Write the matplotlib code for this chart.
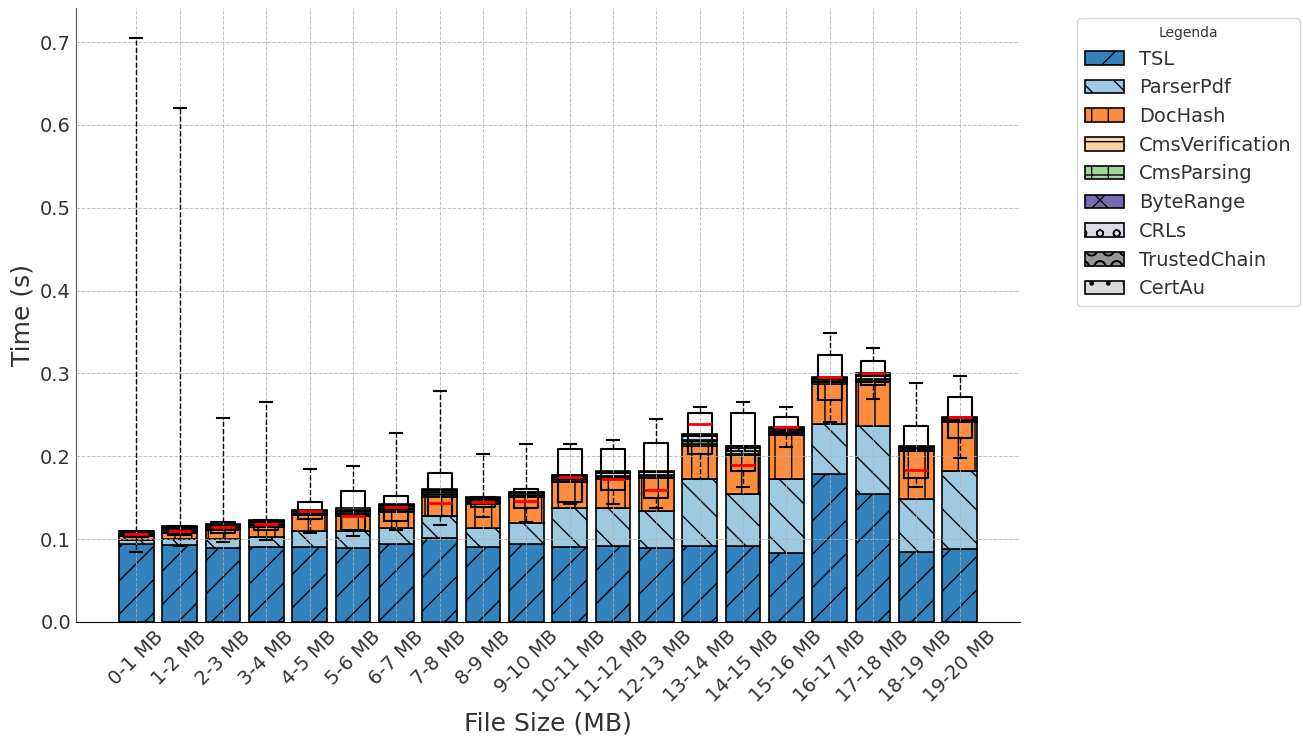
import numpy as np
import matplotlib
matplotlib.use('Agg')
import matplotlib.pyplot as plt

# file size bins
bins = ['0-1 MB', '1-2 MB', '2-3 MB', '3-4 MB', '4-5 MB', '5-6 MB', '6-7 MB', '7-8 MB',
        '8-9 MB', '9-10 MB', '10-11 MB', '11-12 MB', '12-13 MB', '13-14 MB', '14-15 MB',
        '15-16 MB', '16-17 MB', '17-18 MB', '18-19 MB', '19-20 MB']

# mean time per step (s)
tsl = [0.094, 0.093, 0.089, 0.090, 0.090, 0.089, 0.094, 0.1016, 0.091, 0.094,
       0.090, 0.0916, 0.089, 0.0916, 0.0916, 0.083, 0.179, 0.154, 0.0843, 0.088]
parser_pdf = [0.005, 0.0066, 0.0106, 0.0128, 0.020, 0.021, 0.019, 0.0261, 0.023, 0.0256,
              0.048, 0.0454, 0.045, 0.0804, 0.0634, 0.090, 0.0596, 0.082, 0.0647, 0.094]
doc_hash = [0.005, 0.008, 0.0114, 0.0122, 0.019, 0.0177, 0.020, 0.0233, 0.029, 0.0314,
            0.031, 0.036, 0.040, 0.041, 0.046, 0.0523, 0.049, 0.0536, 0.057, 0.0593]
cms_verification = [0.0010, 0.0015, 0.0015, 0.0015, 0.0010, 0.0015, 0.0015, 0.0015, 0.0010, 0.0010,
                    0.0015, 0.0015, 0.0015, 0.0020, 0.0020, 0.0015, 0.0015, 0.0015, 0.0010, 0.0010]
cms_parsing = [0.0010, 0.0015, 0.0015, 0.0015, 0.0010, 0.0015, 0.0020, 0.0015, 0.0015, 0.0010,
               0.0015, 0.0015, 0.0020, 0.0045, 0.0035, 0.0030, 0.0015, 0.0020, 0.0010, 0.0010]
byte_range = [0.0005, 0.0005, 0.0005, 0.0005, 0.0005, 0.0005, 0.0005, 0.0005, 0.0005, 0.0005,
              0.0005, 0.0005, 0.0005, 0.0005, 0.0005, 0.0005, 0.0005, 0.0005, 0.0005, 0.0005]
crls = [0.0015, 0.0025, 0.0020, 0.0025, 0.0020, 0.0030, 0.0030, 0.0030, 0.0025, 0.0020,
        0.0030, 0.0030, 0.0025, 0.0040, 0.0035, 0.0030, 0.0025, 0.0035, 0.0020, 0.0020]
trusted_chain = [0.0015, 0.0010, 0.0010, 0.0010, 0.0010, 0.0015, 0.0015, 0.0015, 0.0015, 0.0010,
                 0.0015, 0.0015, 0.0010, 0.0015, 0.0015, 0.0010, 0.0010, 0.0015, 0.0010, 0.0010]
cert_au = [0.0005, 0.0010, 0.0005, 0.0010, 0.0005, 0.0013, 0.0015, 0.0010, 0.0010, 0.0005,
           0.0010, 0.0010, 0.0005, 0.0015, 0.0005, 0.0007, 0.0010, 0.0014, 0.0005, 0.0006]

# total time distribution per bin (boxplot)
whislo = [0.084, 0.0916, 0.096, 0.099, 0.108, 0.1036, 0.111, 0.117, 0.127, 0.121,
          0.142, 0.143, 0.138, 0.172, 0.163, 0.211, 0.242, 0.2695, 0.163, 0.198]
q1 = [0.103, 0.1045, 0.107, 0.111, 0.124, 0.1116, 0.122, 0.128, 0.139, 0.137,
      0.145, 0.159, 0.150, 0.203, 0.182, 0.227, 0.268, 0.2855, 0.174, 0.2225]
med = [0.106, 0.110, 0.115, 0.1185, 0.134, 0.1277, 0.139, 0.1438, 0.1446, 0.1458,
       0.175, 0.173, 0.159, 0.239, 0.190, 0.235, 0.2956, 0.300, 0.183, 0.2474]
q3 = [0.110, 0.116, 0.121, 0.123, 0.145, 0.158, 0.152, 0.180, 0.151, 0.161,
      0.209, 0.209, 0.216, 0.252, 0.2526, 0.247, 0.3225, 0.315, 0.236, 0.272]
whishi = [0.705, 0.620, 0.246, 0.265, 0.185, 0.188, 0.228, 0.279, 0.203, 0.2145,
          0.2145, 0.220, 0.245, 0.260, 0.2655, 0.260, 0.349, 0.3305, 0.289, 0.297]

steps = ['TSL', 'ParserPdf', 'DocHash', 'CmsVerification', 'CmsParsing',
         'ByteRange', 'CRLs', 'TrustedChain', 'CertAu']
step_values = [tsl, parser_pdf, doc_hash, cms_verification, cms_parsing,
               byte_range, crls, trusted_chain, cert_au]

colors = ['#3182bd', '#9ecae1', '#fd8d3c', '#fdd0a2', '#a1d99b',
          '#756bb1', '#dadaeb', '#969696', '#d9d9d9']
hatches = ['/', '\\', '|', '-', '+', 'x', 'o', 'O', '.']

plt.rcParams['hatch.linewidth'] = 1.0
plt.rcParams['text.color'] = '#333333'
plt.rcParams['xtick.color'] = '#333333'
plt.rcParams['ytick.color'] = '#333333'
plt.rcParams['axes.labelcolor'] = '#333333'

fig = plt.figure(figsize=(13.03, 7.38), dpi=100)
ax = fig.add_axes([0.0583, 0.1572, 0.7245, 0.8318])

x = np.arange(len(bins))
bottom = np.zeros(len(bins))
for name, vals, c, h in zip(steps, step_values, colors, hatches):
    ax.bar(x, vals, 0.8, bottom=bottom, color=c, edgecolor='black',
           linewidth=1.2, hatch=h, label=name)
    bottom += np.array(vals)

stats = []
for i in range(len(bins)):
    stats.append({'whislo': whislo[i], 'q1': q1[i], 'med': med[i],
                  'q3': q3[i], 'whishi': whishi[i], 'fliers': []})

ax.bxp(stats, positions=x, widths=0.55, showfliers=False, manage_ticks=False, zorder=3,
       boxprops=dict(color='black', linewidth=1.5),
       whiskerprops=dict(color='black', linewidth=1, linestyle='--'),
       capprops=dict(color='black', linewidth=1.5),
       medianprops=dict(color='red', linewidth=2))

ax.set_xlim(-1.39, 20.39)
ax.set_ylim(0, 0.741)
ax.set_xticks(x)
ax.set_xticklabels(bins, rotation=45, fontsize=14)
ax.tick_params(axis='y', labelsize=14)
ax.tick_params(length=0)
ax.set_xlabel('File Size (MB)', fontsize=18)
ax.set_ylabel('Time (s)', fontsize=18)

ax.set_axisbelow(False)
ax.grid(True, linestyle='--', color='#b0b0b0', linewidth=0.7, alpha=0.8)
ax.spines['top'].set_visible(False)
ax.spines['right'].set_visible(False)
ax.spines['left'].set_color('#555555')

leg = ax.legend(title='Legenda', fontsize=14, title_fontsize=10, loc='upper left',
                bbox_to_anchor=(0.8266, 0.9756), bbox_transform=fig.transFigure,
                borderaxespad=0)

fig.savefig('out.png', dpi=100)
